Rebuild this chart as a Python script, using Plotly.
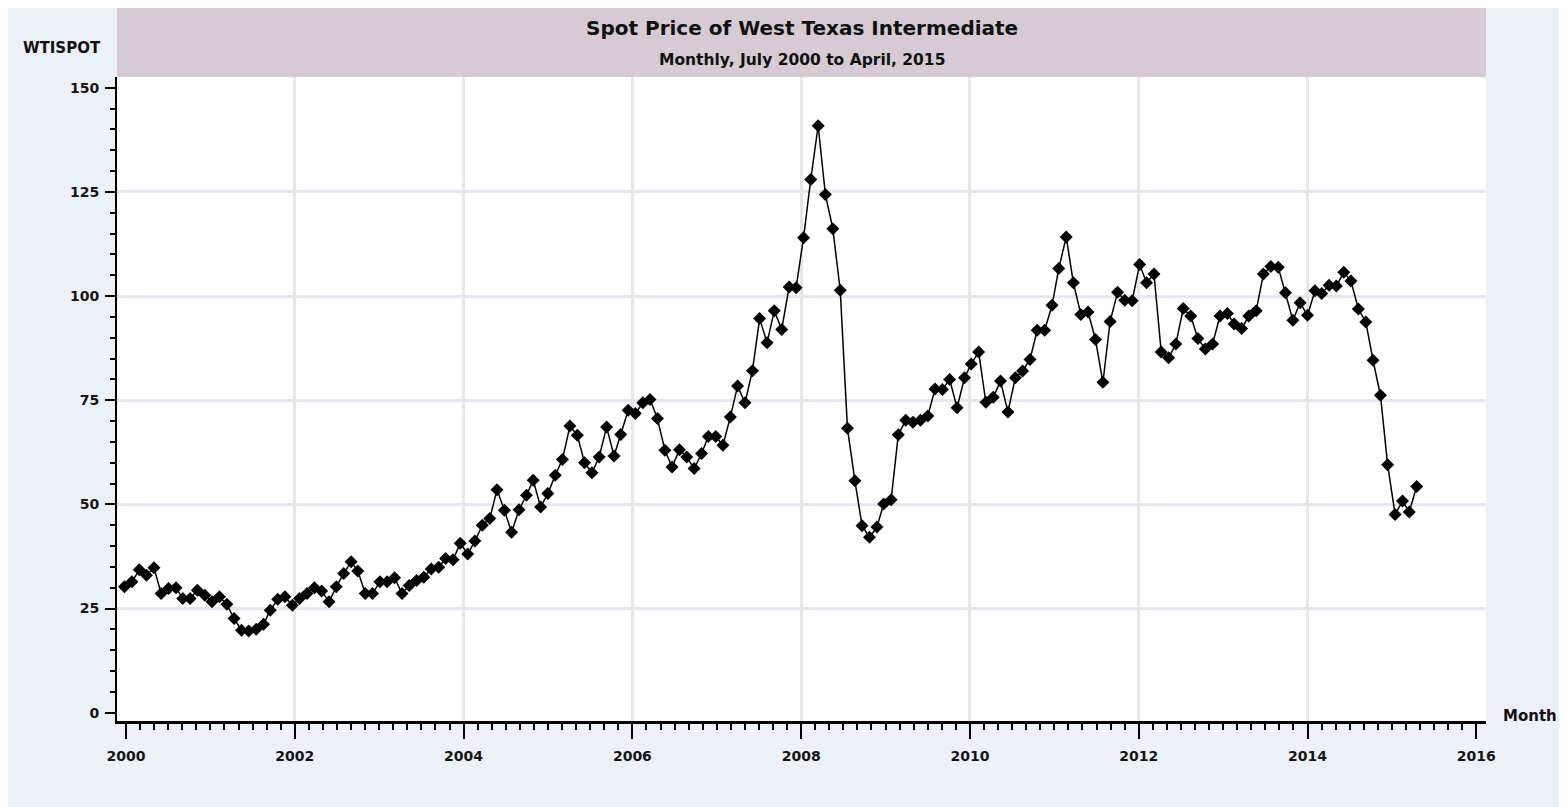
import pandas as pd
import plotly.graph_objects as go

# WTI spot price, one value per month, July 2000 .. April 2015
wti_2000 = [30.2, 31.4, 34.3, 33.0, 34.8, 28.6]
wti_2001 = [29.8, 30.0, 27.4, 27.4, 29.4, 28.2, 26.6, 27.8, 26.0, 22.6, 19.8, 19.6]
wti_2002 = [20.0, 21.2, 24.6, 27.2, 27.8, 25.8, 27.4, 28.6, 30.0, 29.2, 26.6, 30.2]
wti_2003 = [33.4, 36.2, 34.0, 28.6, 28.6, 31.4, 31.4, 32.4, 28.6, 30.5, 31.7, 32.5]
wti_2004 = [34.5, 34.9, 37.0, 36.7, 40.7, 38.1, 41.2, 45.0, 46.6, 53.5, 48.6, 43.3]
wti_2005 = [48.7, 52.2, 55.8, 49.4, 52.6, 57.0, 60.8, 68.8, 66.6, 60.0, 57.6, 61.4]
wti_2006 = [68.6, 61.6, 66.8, 72.6, 71.8, 74.4, 75.2, 70.6, 63.0, 59.0, 63.1, 61.4]
wti_2007 = [58.6, 62.2, 66.3, 66.3, 64.2, 71.0, 78.4, 74.4, 82.1, 94.6, 88.8, 96.5]
wti_2008 = [92.0, 102.2, 102.0, 114.0, 128.0, 140.9, 124.4, 116.2, 101.4, 68.3, 55.7, 44.9]
wti_2009 = [42.1, 44.6, 50.1, 51.1, 66.7, 70.2, 69.7, 70.2, 71.2, 77.7, 77.6, 80.0]
wti_2010 = [73.2, 80.4, 83.7, 86.6, 74.5, 75.7, 79.6, 72.2, 80.4, 82.0, 84.8, 91.8]
wti_2011 = [91.8, 97.8, 106.6, 114.2, 103.2, 95.6, 96.2, 89.6, 79.3, 93.9, 100.9, 99.0]
wti_2012 = [98.9, 107.6, 103.2, 105.3, 86.6, 85.2, 88.5, 97.0, 95.2, 89.8, 87.3, 88.5]
wti_2013 = [95.2, 95.8, 93.3, 92.2, 95.2, 96.5, 105.3, 107.1, 106.9, 100.8, 94.2, 98.4]
wti_2014 = [95.4, 101.3, 100.6, 102.6, 102.4, 105.7, 103.6, 96.9, 93.8, 84.6, 76.2, 59.5]
wti_2015 = [47.6, 50.8, 48.2, 54.3]

wti = (wti_2000 + wti_2001 + wti_2002 + wti_2003 + wti_2004 + wti_2005 + wti_2006
       + wti_2007 + wti_2008 + wti_2009 + wti_2010 + wti_2011 + wti_2012 + wti_2013
       + wti_2014 + wti_2015)
months = pd.date_range("2000-07-01", "2015-04-01", freq="MS")
assert len(months) == len(wti)

year_ticks = list(range(2000, 2017, 2))
year_grid = list(range(2002, 2015, 2))
price_ticks = [0, 25, 50, 75, 100, 125, 150]
price_grid = [25, 50, 75, 100, 125]

FONT = "DejaVu Sans, Verdana, sans-serif"
GRID = "#e7e5ee"
X_RANGE = [1999.893, 2016.115]
Y_RANGE = [-2.0, 152.6]


def label(text, x, y, size):
    return {
        "text": f"<b>{text}</b>",
        "xref": "paper",
        "yref": "paper",
        "x": x,
        "y": y,
        "xanchor": "center",
        "yanchor": "middle",
        "showarrow": False,
        "font": {"family": FONT, "size": size, "color": "#111"},
    }


fig = go.Figure()
# empty traces so the axis / grid subplots get drawn
fig.add_trace(go.Scatter(x=[], y=[], xaxis="x", yaxis="y", showlegend=False))
fig.add_trace(go.Scatter(x=[], y=[], xaxis="x3", yaxis="y2", showlegend=False))
fig.add_trace(
    go.Scatter(
        x=months,
        y=wti,
        mode="lines+markers",
        line={"color": "black", "width": 1.5},
        marker={"symbol": "diamond", "size": 10, "color": "black"},
        xaxis="x2",
        yaxis="y",
        showlegend=False,
        name="WTISPOT",
    )
)

fig.update_layout(
    {
        "width": 1559,
        "height": 799,
        "margin": {"l": 109, "r": 81, "t": 69, "b": 86},
        "paper_bgcolor": "#ecf0f7",
        "plot_bgcolor": "white",
        "font": {"family": FONT, "size": 14, "color": "#151515"},
        "showlegend": False,
        "xaxis": {
            "range": X_RANGE,
            "tickvals": year_ticks,
            "showgrid": False,
            "zeroline": False,
            "showline": True,
            "linecolor": "black",
            "linewidth": 3,
            "ticks": "outside",
            "ticklen": 15,
            "tickwidth": 2,
            "tickcolor": "black",
            "ticklabelstandoff": 5,
            "tickfont": {"family": FONT, "size": 14, "weight": "bold"},
            "minor": {
                "dtick": 1 / 6,
                "tick0": 2000,
                "ticks": "outside",
                "ticklen": 6,
                "tickwidth": 1.5,
                "tickcolor": "black",
                "showgrid": False,
            },
        },
        "xaxis2": {
            "type": "date",
            "range": ["2000-05-31", "2016-01-15"],
            "overlaying": "x",
            "anchor": "y",
            "visible": False,
        },
        "xaxis3": {
            "range": X_RANGE,
            "overlaying": "x",
            "anchor": "y2",
            "tickvals": year_grid,
            "showgrid": True,
            "gridcolor": GRID,
            "gridwidth": 3,
            "showticklabels": False,
            "ticks": "",
            "zeroline": False,
            "showline": False,
        },
        "yaxis": {
            "range": Y_RANGE,
            "tickvals": price_ticks,
            "showgrid": False,
            "zeroline": False,
            "showline": True,
            "linecolor": "black",
            "linewidth": 2,
            "ticks": "outside",
            "ticklen": 10,
            "tickwidth": 1.5,
            "tickcolor": "black",
            "ticklabelstandoff": 3,
            "tickfont": {"family": FONT, "size": 14, "weight": "bold"},
            "minor": {
                "dtick": 5,
                "ticks": "outside",
                "ticklen": 5,
                "tickwidth": 1.5,
                "tickcolor": "black",
                "showgrid": False,
            },
        },
        "yaxis2": {
            "range": Y_RANGE,
            "overlaying": "y",
            "anchor": "x3",
            "tickvals": price_grid,
            "showgrid": True,
            "gridcolor": GRID,
            "gridwidth": 3,
            "showticklabels": False,
            "ticks": "",
            "zeroline": False,
            "showline": False,
        },
        "shapes": [
            # title band above the plot area
            {
                "type": "rect",
                "xref": "paper",
                "yref": "paper",
                "x0": 0,
                "x1": 1,
                "y0": 1.0,
                "y1": 1.1087,
                "fillcolor": "#d6cbd4",
                "line": {"width": 0},
                "layer": "below",
            },
        ],
        "annotations": [
            label("Spot Price of West Texas Intermediate", 0.5, 1.076, 20),
            label("Monthly, July 2000 to April, 2015", 0.5, 1.026, 15.5),
            label("WTISPOT", -0.0402, 1.045, 15),
            label("Month", 1.032, 0.008, 15),
        ],
    }
)

fig.write_html("out.html")
